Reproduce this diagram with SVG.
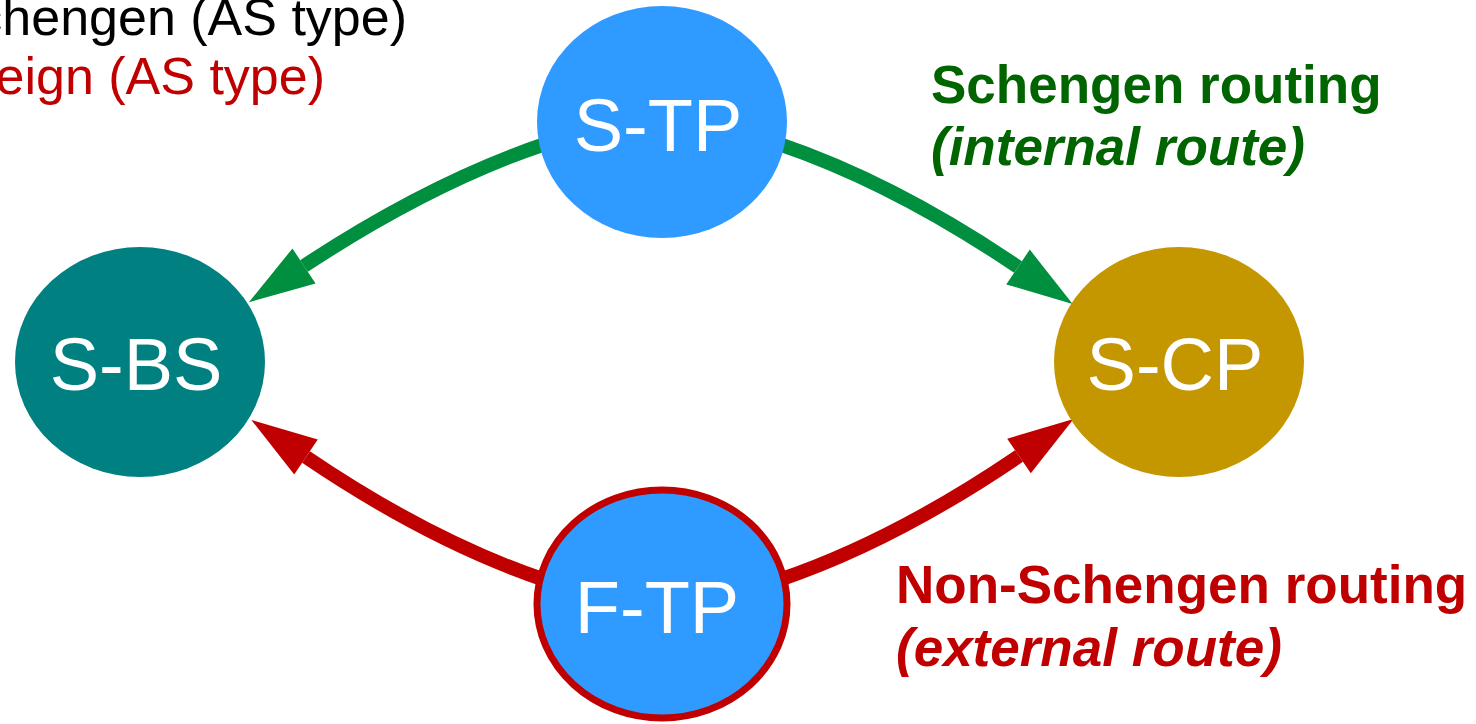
<svg xmlns="http://www.w3.org/2000/svg" width="1476" height="724" viewBox="0 0 1476 724">
  <style>
    .node-label { font-family: "Liberation Sans", Arial, sans-serif; font-size: 74px; fill: #ffffff; text-anchor: middle; }
    .route { font-family: "Liberation Sans", Arial, sans-serif; font-size: 53px; font-weight: bold; }
    .route-sub { font-style: italic; }
    .legend { font-family: "Liberation Sans", Arial, sans-serif; font-size: 52px; text-anchor: end; }
    .green-line { fill: none; stroke: #008F3E; stroke-width: 14; }
    .red-line { fill: none; stroke: #C00000; stroke-width: 14; }
  </style>
  <defs>
    <marker id="head-green" markerUnits="userSpaceOnUse" markerWidth="70" markerHeight="46" refX="0" refY="21" orient="auto" overflow="visible">
      <path d="M0,0 L66,21 L0,42 Z" fill="#008F3E"/>
    </marker>
    <marker id="head-red" markerUnits="userSpaceOnUse" markerWidth="70" markerHeight="46" refX="0" refY="21" orient="auto" overflow="visible">
      <path d="M0,0 L66,21 L0,42 Z" fill="#C00000"/>
    </marker>
  </defs>

  <rect width="1476" height="724" fill="#ffffff"/>

  <!-- legend, top left -->
  <g id="legend">
    <text class="legend" x="407" y="35" fill="#000000">Schengen (AS type)</text>
    <text class="legend" x="325" y="94" fill="#C00000">Foreign (AS type)</text>
  </g>

  <!-- routes between the points -->
  <g id="connectors">
    <path class="green-line" d="M545,144 Q430,183 304,266" marker-end="url(#head-green)"/>
    <path class="green-line" d="M779,144 Q894,183 1018,267" marker-end="url(#head-green)"/>
    <path class="red-line" d="M545,580 Q430,541 306,457" marker-end="url(#head-red)"/>
    <path class="red-line" d="M779,580 Q894,541 1019,456" marker-end="url(#head-red)"/>
  </g>

  <g id="node-s-tp">
    <ellipse cx="662" cy="122" rx="125" ry="116" fill="#2F9AFF"/>
    <text class="node-label" x="658" y="151">S-TP</text>
  </g>

  <g id="node-s-bs">
    <ellipse cx="140" cy="362" rx="125" ry="115" fill="#008080"/>
    <text class="node-label" x="136" y="390">S-BS</text>
  </g>

  <g id="node-s-cp">
    <ellipse cx="1179" cy="362" rx="125" ry="115" fill="#C49600"/>
    <text class="node-label" x="1175" y="390">S-CP</text>
  </g>

  <g id="node-f-tp">
    <ellipse cx="662" cy="604" rx="125" ry="114" fill="#2F9AFF" stroke="#C00000" stroke-width="7"/>
    <text class="node-label" x="657" y="633">F-TP</text>
  </g>

  <g id="label-schengen">
    <text class="route" x="931" y="103" fill="#006400">Schengen routing</text>
    <text class="route route-sub" x="931" y="165" fill="#006400">(internal route)</text>
  </g>

  <g id="label-non-schengen">
    <text class="route" x="896" y="603" fill="#C00000">Non-Schengen routing</text>
    <text class="route route-sub" x="896" y="666" fill="#C00000">(external route)</text>
  </g>
</svg>
